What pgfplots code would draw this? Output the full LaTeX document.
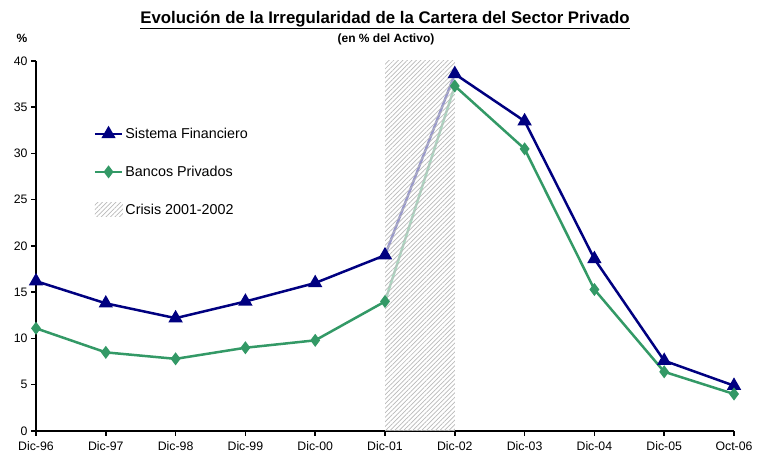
\documentclass[border=0pt]{standalone}
\usepackage{pgfplots}
\pgfplotsset{compat=1.18}
\usepackage{fontspec}
\setmainfont{Liberation Sans}
\usetikzlibrary{patterns.meta}
\definecolor{sfblue}{RGB}{0,0,128}
\definecolor{bpgreen}{RGB}{51,153,102}
\begin{document}
\begin{tikzpicture}
\useasboundingbox (0,0) rectangle (766pt,454pt);
\begin{axis}[
  at={(36pt,23pt)}, anchor=origin,
  scale only axis, width=698pt, height=370pt,
  xmin=0, xmax=10, ymin=0, ymax=40,
  axis x line*=bottom, axis y line*=left,
  axis line style={line width=2pt,-},
  xtick={0,...,10},
  xticklabels={Dic-96,Dic-97,Dic-98,Dic-99,Dic-00,Dic-01,Dic-02,Dic-03,Dic-04,Dic-05,Oct-06},
  ytick={0,5,...,40},
  tick align=outside, major tick length=5pt,
  tick style={line width=1.5pt, black},
  /pgf/number format/assume math mode=true,
  ticklabel style={font=\fontsize{12.3}{14}\selectfont},
  xticklabel style={yshift=-2pt},
  clip=false,
  legend style={at={(0.078,0.83)}, anchor=north west, draw=none, fill=none,
    font=\fontsize{14.3}{16}\selectfont, row sep=22pt},
  legend cell align=left,
]
\addplot[sfblue, line width=2.5pt, mark=triangle*, mark size=5.8pt, mark options={solid},
  legend image code/.code={\draw[mark repeat=2,mark phase=2] plot coordinates {(0cm,0cm)(0.48cm,0cm)(0.96cm,0cm)};}]
  coordinates {(0,16.2) (1,13.8) (2,12.2) (3,14.0) (4,16.0) (5,19.0) (6,38.6) (7,33.5) (8,18.6) (9,7.6) (10,4.9)};
\addlegendentry{Sistema Financiero}
\addplot[bpgreen, line width=2.5pt, mark=diamond*, mark size=4.5pt,
  legend image code/.code={\draw[mark repeat=2,mark phase=2] plot coordinates {(0cm,0cm)(0.48cm,0cm)(0.96cm,0cm)};}]
  coordinates {(0,11.1) (1,8.5) (2,7.8) (3,9.0) (4,9.8) (5,14.0) (6,37.3) (7,30.5) (8,15.3) (9,6.4) (10,4.0)};
\addlegendentry{Bancos Privados}
\addplot[draw=none, fill=white, fill opacity=0.6, forget plot]
  coordinates {(5,0) (5,40) (6,40) (6,0)} -- cycle;
\addplot[draw=none, pattern={Lines[angle=45, distance=3.2pt, line width=0.7pt]}, pattern color=gray!55,
  legend image code/.code={\fill[pattern={Lines[angle=45, distance=3.2pt, line width=0.7pt]}, pattern color=gray!55] (0cm,-0.25cm) rectangle (0.98cm,0.25cm);}]
  coordinates {(5,0) (5,40) (6,40) (6,0)} -- cycle;
\addlegendentry{Crisis 2001-2002}
\end{axis}
\node at (385pt,434pt) {\fontsize{16.8}{18}\selectfont\bfseries\underline{Evolución de la Irregularidad de la Cartera del Sector Privado}};
\node at (386pt,415pt) {\fontsize{12}{13}\selectfont\bfseries (en \% del Activo)};
\node at (22pt,416pt) {\fontsize{12}{13}\selectfont\bfseries \%};
\end{tikzpicture}
\end{document}
